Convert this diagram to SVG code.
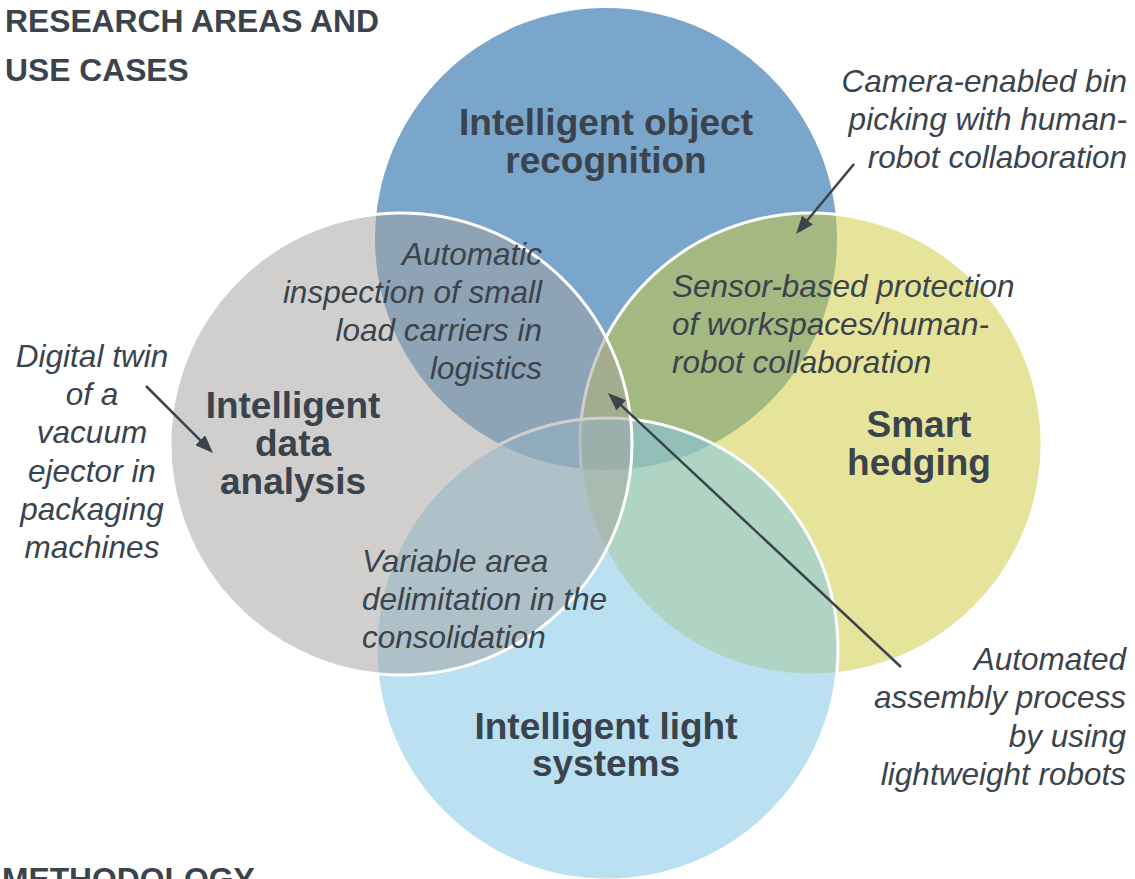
<svg xmlns="http://www.w3.org/2000/svg" width="1135" height="879" viewBox="0 0 1135 879">
<defs>
<style>
.title{font-family:"Liberation Sans",Arial,sans-serif;font-weight:bold;font-size:31.8px;fill:#3b434c}
.lbl{font-family:"Liberation Sans",Arial,sans-serif;font-weight:bold;font-size:37px;fill:#3b434c;text-anchor:middle}
.it{font-family:"Liberation Sans",Arial,sans-serif;font-style:italic;font-size:31.5px;fill:#3b434c}
.circ{stroke:#ffffff;stroke-width:3}
.conn{stroke:#3b434c;stroke-width:2.5;fill:none}
</style>
<marker id="arr" viewBox="0 0 18 14" markerWidth="18" markerHeight="14" refX="8" refY="7" orient="auto" markerUnits="userSpaceOnUse">
<path d="M0,0 L18,7 L0,14 z" fill="#3b434c"/>
</marker>
</defs>
<rect width="1135" height="879" fill="#ffffff"/>

<g id="title">
<text class="title" x="5" y="32">RESEARCH AREAS AND</text>
<text class="title" x="5" y="81">USE CASES</text>
<text class="title" x="2" y="890">METHODOLOGY</text>
</g>

<g id="node-object-recognition">
<circle cx="606" cy="239" r="231" fill="#7ba6cc"/>
</g>
<g id="node-smart-hedging">
<circle class="circ" cx="811" cy="444" r="231" fill="#cdc935" fill-opacity="0.5"/>
</g>
<g id="node-light-systems">
<circle class="circ" cx="607" cy="649" r="231" fill="#83c6e7" fill-opacity="0.55"/>
</g>
<g id="node-data-analysis">
<circle class="circ" cx="401" cy="444" r="231" fill="#a19f9d" fill-opacity="0.5"/>
</g>

<g id="labels">
<text class="lbl" x="606" y="135">Intelligent object</text>
<text class="lbl" x="606" y="173">recognition</text>
<text class="lbl" x="293" y="418">Intelligent</text>
<text class="lbl" x="293" y="456">data</text>
<text class="lbl" x="293" y="494">analysis</text>
<text class="lbl" x="919" y="437">Smart</text>
<text class="lbl" x="919" y="475">hedging</text>
<text class="lbl" x="606" y="739">Intelligent light</text>
<text class="lbl" x="606" y="776">systems</text>
</g>

<g id="use-cases">
<g text-anchor="end">
<text class="it" x="542" y="265">Automatic</text>
<text class="it" x="542" y="303">inspection of small</text>
<text class="it" x="542" y="341">load carriers in</text>
<text class="it" x="542" y="379">logistics</text>
</g>
<g>
<text class="it" x="672" y="297">Sensor-based protection</text>
<text class="it" x="672" y="335">of workspaces/human-</text>
<text class="it" x="672" y="373">robot collaboration</text>
</g>
<g text-anchor="end">
<text class="it" x="1127" y="92">Camera-enabled bin</text>
<text class="it" x="1127" y="130">picking with human-</text>
<text class="it" x="1127" y="168">robot collaboration</text>
</g>
<g text-anchor="middle">
<text class="it" x="92" y="367">Digital twin</text>
<text class="it" x="92" y="405">of a</text>
<text class="it" x="92" y="443">vacuum</text>
<text class="it" x="92" y="482">ejector in</text>
<text class="it" x="92" y="520">packaging</text>
<text class="it" x="92" y="558">machines</text>
</g>
<g>
<text class="it" x="362" y="572">Variable area</text>
<text class="it" x="362" y="610">delimitation in the</text>
<text class="it" x="362" y="648">consolidation</text>
</g>
<g text-anchor="end">
<text class="it" x="1126" y="670">Automated</text>
<text class="it" x="1126" y="708">assembly process</text>
<text class="it" x="1126" y="747">by using</text>
<text class="it" x="1126" y="785">lightweight robots</text>
</g>
</g>

<g id="connectors">
<line class="conn" x1="854" y1="164" x2="802.4" y2="226.3" marker-end="url(#arr)"/>
<line class="conn" x1="146" y1="386" x2="205.9" y2="445.9" marker-end="url(#arr)"/>
<line class="conn" x1="901" y1="667" x2="615.3" y2="399.8" marker-end="url(#arr)"/>
</g>
</svg>
